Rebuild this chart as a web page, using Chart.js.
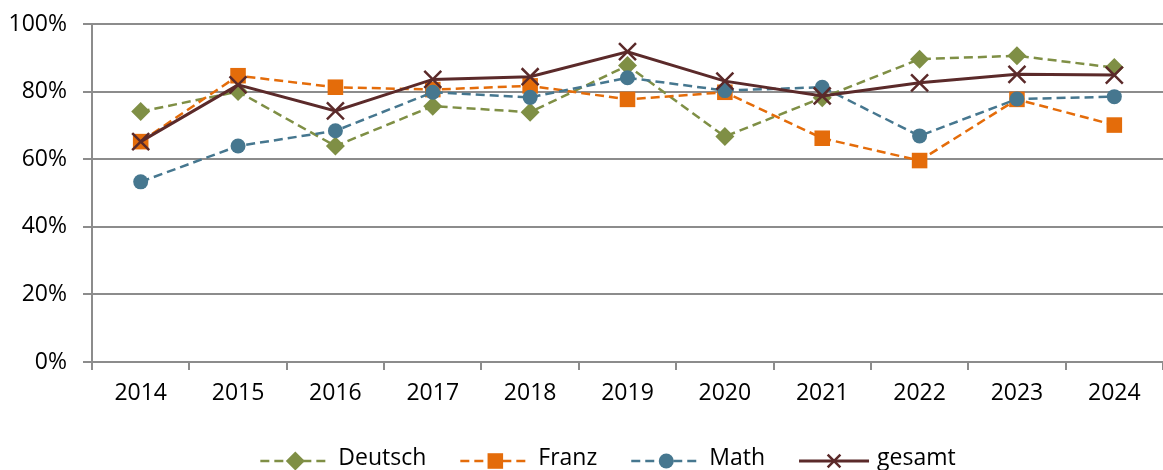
<!DOCTYPE html>
<html>
<head>
<meta charset="utf-8">
<script src="https://cdn.jsdelivr.net/npm/chart.js@4/dist/chart.umd.min.js"></script>
<style>
  html, body { margin: 0; padding: 0; background: #fff; }
  #wrap { width: 1163px; height: 470px; }
</style>
</head>
<body>
<div id="wrap"><canvas id="c" width="1163" height="470"></canvas></div>
<script>
const years = ['2014','2015','2016','2017','2018','2019','2020','2021','2022','2023','2024'];
const deutsch = [74.1, 80.0, 63.9, 75.7, 73.9, 87.7, 66.7, 78.2, 89.6, 90.6, 87.1];
const franz   = [65.2, 84.7, 81.3, 80.6, 81.7, 77.7, 79.8, 66.2, 59.6, 77.7, 70.1];
const math    = [53.3, 63.9, 68.4, 79.8, 78.3, 84.1, 80.3, 81.3, 66.9, 77.8, 78.5];
const gesamt  = [65.2, 82.0, 74.3, 83.6, 84.4, 91.8, 83.1, 78.7, 82.6, 85.1, 84.9];
const yTicks  = [0, 20, 40, 60, 80, 100];
const seriesNames = ['Deutsch', 'Franz', 'Math', 'gesamt'];

const FONT = '"Open Sans", "Liberation Sans", sans-serif';
const GRID = '#8c8c8c';

const styles = [
  { color: '#7f8f45', dash: [9, 5], point: 'rectRot', radius: 9.5, width: 2.5 },
  { color: '#e46c0a', dash: [9, 5], point: 'rect', radius: 11, width: 2.5 },
  { color: '#46778f', dash: [9, 5], point: 'circle', radius: 7.5, width: 2.5 },
  { color: '#5b2a2a', dash: [], point: 'crossRot', radius: 12, width: 3 }
];
const values = [deutsch, franz, math, gesamt];

const datasets = seriesNames.map((name, i) => ({
  label: name,
  data: values[i],
  borderColor: styles[i].color,
  backgroundColor: styles[i].color,
  borderWidth: styles[i].width,
  borderDash: styles[i].dash,
  pointStyle: styles[i].point,
  pointRadius: styles[i].radius,
  pointHoverRadius: styles[i].radius,
  pointBorderColor: styles[i].color,
  pointBackgroundColor: styles[i].color,
  pointBorderWidth: styles[i].point === 'crossRot' ? 2.5 : 0,
  tension: 0,
  order: 3 - i
}));

function drawMarker(ctx, style, x, y, r, color) {
  ctx.save();
  ctx.fillStyle = color;
  ctx.strokeStyle = color;
  ctx.setLineDash([]);
  ctx.beginPath();
  if (style === 'rectRot') {
    ctx.moveTo(x, y - r); ctx.lineTo(x + r, y); ctx.lineTo(x, y + r); ctx.lineTo(x - r, y); ctx.closePath(); ctx.fill();
  } else if (style === 'rect') {
    const s = r * Math.SQRT1_2;
    ctx.rect(x - s, y - s, 2 * s, 2 * s); ctx.fill();
  } else if (style === 'circle') {
    ctx.arc(x, y, r, 0, Math.PI * 2); ctx.fill();
  } else if (style === 'crossRot') {
    const s = r * Math.SQRT1_2;
    ctx.lineWidth = 2.5;
    ctx.moveTo(x - s, y - s); ctx.lineTo(x + s, y + s);
    ctx.moveTo(x + s, y - s); ctx.lineTo(x - s, y + s);
    ctx.stroke();
  }
  ctx.restore();
}

const legendPlugin = {
  id: 'customLegend',
  afterDraw(chart) {
    const ctx = chart.ctx;
    ctx.save();
    ctx.font = '23px ' + FONT;
    const lineLen = 70, gapText = 8, gapItem = 34;
    const widths = seriesNames.map(n => ctx.measureText(n).width);
    let total = 0;
    widths.forEach((w, i) => { total += lineLen + gapText + w + (i < widths.length - 1 ? gapItem : 0); });
    let x = 608 - total / 2;
    const y = 461;
    seriesNames.forEach((name, i) => {
      const st = styles[i];
      ctx.save();
      ctx.strokeStyle = st.color;
      ctx.lineWidth = st.width;
      ctx.setLineDash(st.dash);
      ctx.beginPath();
      ctx.moveTo(x, y); ctx.lineTo(x + lineLen, y);
      ctx.stroke();
      ctx.restore();
      drawMarker(ctx, st.point, x + lineLen / 2, y, st.point === 'crossRot' ? 9 : st.radius, st.color);
      ctx.fillStyle = '#000';
      ctx.textBaseline = 'middle';
      ctx.textAlign = 'left';
      ctx.fillText(name, x + lineLen + gapText, y - 3);
      x += lineLen + gapText + widths[i] + gapItem;
    });
    ctx.restore();
  }
};

new Chart(document.getElementById('c'), {
  type: 'line',
  data: { labels: years, datasets },
  options: {
    responsive: false,
    devicePixelRatio: 1,
    animation: false,
    layout: { autoPadding: false, padding: { top: 24, right: 0, left: 0, bottom: 0 } },
    plugins: { legend: { display: false }, tooltip: { enabled: false } },
    scales: {
      x: {
        offset: true,
        grid: { offset: true, drawOnChartArea: false, drawTicks: true, tickLength: 8, color: GRID, lineWidth: 2 },
        border: { display: true, color: GRID, width: 2 },
        ticks: { color: '#000', font: { family: FONT, size: 23 }, padding: 10, maxRotation: 0 },
        afterFit(scale) { scale.height = 108; scale.paddingLeft = 0; scale.paddingRight = 0; }
      },
      y: {
        min: 0, max: 100,
        afterBuildTicks(scale) { scale.ticks = yTicks.map(v => ({ value: v })); },
        grid: { color: GRID, lineWidth: 2, drawTicks: true, tickLength: 9 },
        border: { display: true, color: GRID, width: 2 },
        ticks: { color: '#000', font: { family: FONT, size: 23 }, padding: 16, callback: v => v + '%' },
        afterFit(scale) { scale.width = 92; scale.paddingTop = 0; scale.paddingBottom = 0; }
      }
    }
  },
  plugins: [legendPlugin]
});
</script>
</body>
</html>
